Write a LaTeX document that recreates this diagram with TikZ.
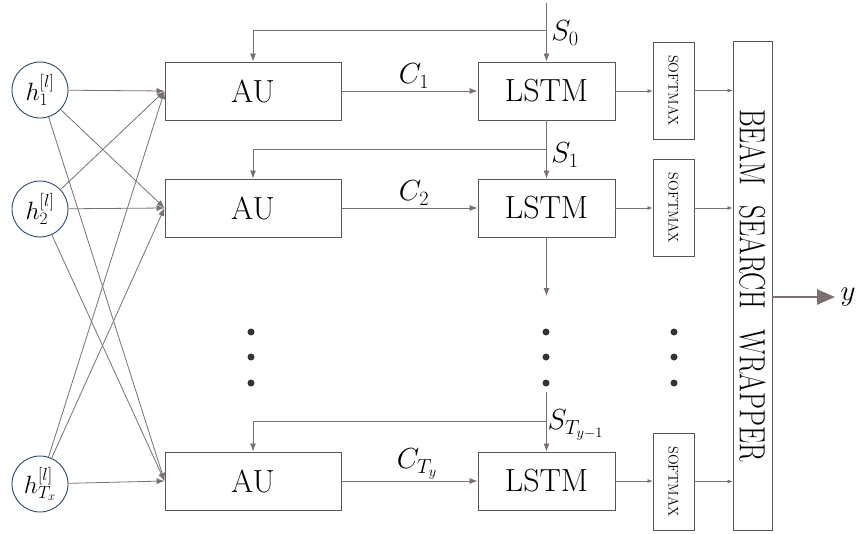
\RequirePackage{fix-cm}
\documentclass[tikz,border=0pt]{standalone}
\usetikzlibrary{arrows.meta}
\definecolor{ln}{HTML}{7A706E}
\definecolor{cb}{HTML}{2B4A6B}
\definecolor{bx}{HTML}{5A5555}
\definecolor{dt}{HTML}{333338}
\begin{document}
\begin{tikzpicture}[x=1pt,y=-1pt,
 hnode/.style={circle,draw=cb,line width=0.9pt,minimum size=56pt,inner sep=0pt,font=\fontsize{25}{29}\selectfont},
 aubox/.style={draw=bx,line width=0.9pt,minimum width=176pt,minimum height=58pt,inner sep=0pt,font=\fontsize{32}{36}\selectfont},
 lbox/.style={aubox,minimum width=137pt},
 sbox/.style={draw=bx,line width=0.9pt,minimum width=97pt,minimum height=41pt,inner sep=0pt,rotate=-90,font=\fontsize{14}{16}\selectfont},
 conn/.style={draw=ln,line width=0.8pt,-{Latex[length=8pt,width=6pt]}},
 thinar/.style={draw=ln,line width=0.6pt,-{Latex[length=5pt,width=4pt]}},
 dotn/.style={circle,fill=dt,inner sep=0pt,minimum size=7pt},
 lab/.style={font=\fontsize{29}{33}\selectfont}]
\useasboundingbox (0,0) rectangle (857,533);
% input nodes
\node[hnode] (h1) at (40,90) {$h_1^{[l]}$};
\node[hnode] (h2) at (40,209) {$h_2^{[l]}$};
\node[hnode] (h3) at (40,484) {$h_{T_x}^{[l]}$};
% AU boxes
\node[aubox] (a1) at (253,91) {AU};
\node[aubox] (a2) at (253,208) {AU};
\node[aubox] (a3) at (253,481) {AU};
% LSTM boxes
\node[lbox] (l1) at (546.5,91) {LSTM};
\node[lbox] (l2) at (546.5,208) {LSTM};
\node[lbox] (l3) at (546.5,481) {LSTM};
% softmax
\node[sbox] (s1) at (673.5,90.5) {SOFTMAX};
\node[sbox] (s2) at (673.5,208) {SOFTMAX};
\node[sbox] (s3) at (673.5,481.5) {SOFTMAX};
% beam
\node[draw=bx,line width=0.9pt,minimum width=489pt,minimum height=39pt,inner sep=0pt,rotate=-90,font=\fontsize{27}{32}\selectfont] (bw) at (752.5,285.5) {\scalebox{1}[1.35]{BEAM\hspace{0.45em} SEARCH\hspace{0.45em} WRAPPER}};
% h -> AU
\foreach \h in {h1,h2,h3}{
  \foreach \a in {a1,a2,a3}{
    \draw[conn] (\h) -- (\a.west);
  }
}
% AU -> LSTM
\draw[conn] (a1.east) -- (l1.west);
\draw[conn] (a2.east) -- (l2.west);
\draw[conn] (a3.east) -- (l3.west);
\node[lab] (c1) at (414,76) {$C_1$};
\node[lab] (c2) at (414,193) {$C_2$};
\node[lab] (c3) at (417,464) {$C_{T_y}$};
% states
\coordinate (top) at (546.5,3);
\coordinate (f0) at (546.5,30);
\coordinate (f1) at (546.5,149);
\coordinate (d2) at (546.5,296);
\coordinate (u3) at (546.5,392);
\coordinate (f3) at (546.5,421);
\draw[conn] (top) -- (l1.north);
\draw[conn] (f0) -| (a1.north);
\draw[conn] (l1.south) -- (l2.north);
\draw[conn] (f1) -| (a2.north);
\draw[conn] (l2.south) -- (d2);
\draw[conn] (u3) -- (l3.north);
\draw[conn] (f3) -| (a3.north);
\node[lab] (s0l) at (565,33) {$S_0$};
\node[lab] (s1l) at (565,155) {$S_1$};
\node[lab,anchor=west] (s3l) at (544,425) {$S_{T_{y-1}}$};
% LSTM -> softmax -> beam
\draw[thinar] (l1.east) -- (l1.east -| s1.south);
\draw[thinar] (l2.east) -- (l2.east -| s2.south);
\draw[thinar] (l3.east) -- (l3.east -| s3.south);
\draw[thinar] (s1.north) -- (s1.north -| bw.south);
\draw[thinar] (s2.north) -- (s2.north -| bw.south);
\draw[thinar] (s3.north) -- (s3.north -| bw.south);
% output
\coordinate (yo) at (835,297);
\draw[draw=ln,line width=2.6pt,-{Triangle[length=18pt,width=15pt]}] (bw.north |- yo) -- (yo);
\node[lab,anchor=west] (yl) at (837,297) {$y$};
% dots
\foreach \x in {251,546,674}{
  \foreach \y in {332,357,383}{
    \node[dotn] at (\x,\y) {};
  }
}
\end{tikzpicture}
\end{document}
